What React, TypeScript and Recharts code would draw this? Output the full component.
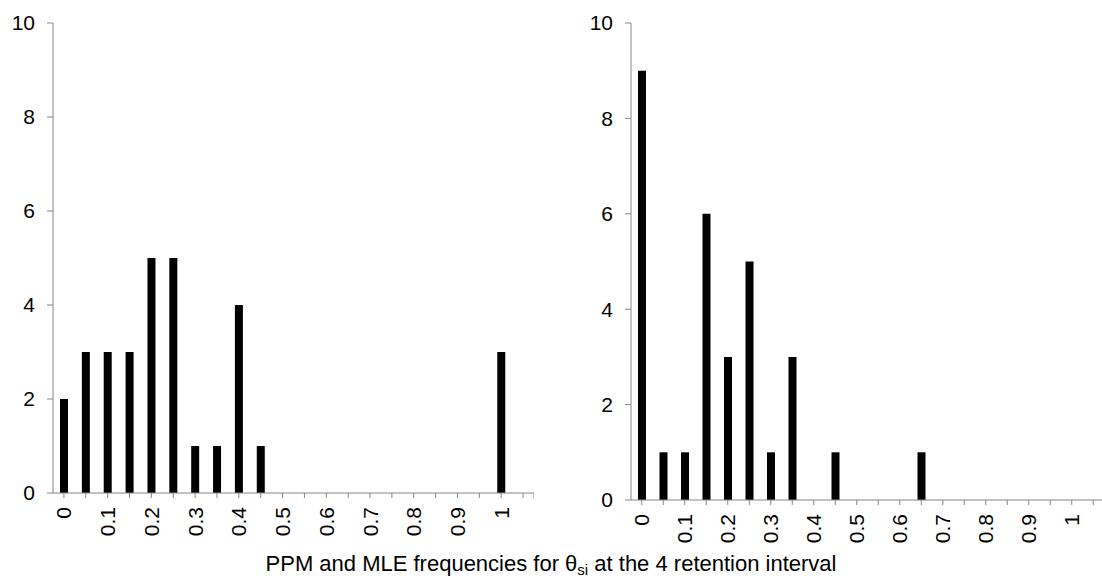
import { BarChart, Bar, XAxis, YAxis } from 'recharts'

// bin centres of the theta histogram (0 .. 1.05 in steps of 0.05)
const BINS = [
  0, 0.05, 0.1, 0.15, 0.2, 0.25, 0.3, 0.35, 0.4, 0.45, 0.5,
  0.55, 0.6, 0.65, 0.7, 0.75, 0.8, 0.85, 0.9, 0.95, 1, 1.05,
]

const PPM_COUNTS = [2, 3, 3, 3, 5, 5, 1, 1, 4, 1, 0, 0, 0, 0, 0, 0, 0, 0, 0, 0, 3, 0]
const MLE_COUNTS = [9, 1, 1, 6, 3, 5, 1, 3, 0, 1, 0, 0, 0, 1, 0, 0, 0, 0, 0, 0, 0, 0]

const X_LABELS: Record<string, string> = {
  '0': '0', '0.1': '0.1', '0.2': '0.2', '0.3': '0.3', '0.4': '0.4', '0.5': '0.5',
  '0.6': '0.6', '0.7': '0.7', '0.8': '0.8', '0.9': '0.9', '1': '1',
}
const Y_TICKS = [0, 2, 4, 6, 8, 10]
const X_DOMAIN: [number, number] = [-0.025, 1.075]
const X_TICKS = [...BINS, 1.075]

const AXIS_COLOR = '#868686'
const FONT = '"Liberation Sans", Arial, sans-serif'

const XTick = (props: any) => {
  const { x, y, payload } = props
  const label = X_LABELS[String(payload.value)]
  if (!label) return null
  return (
    <text
      x={x}
      y={y}
      dx={-7}
      dy="0.36em"
      transform={`rotate(-90, ${x}, ${y})`}
      textAnchor="end"
      fill="#000"
      fontSize={21}
      fontFamily={FONT}
    >
      {label}
    </text>
  )
}

type HistProps = { counts: number[]; width: number; height: number; bottom: number }

function Histogram({ counts, width, height, bottom }: HistProps) {
  const data = BINS.map((x, i) => ({ x, n: counts[i] }))
  return (
    <BarChart
      width={width}
      height={height}
      data={data}
      margin={{ top: 23, right: 0, left: 0, bottom }}
    >
      <XAxis
        dataKey="x"
        type="number"
        domain={X_DOMAIN}
        ticks={X_TICKS}
        allowDataOverflow
        interval={0}
        height={60}
        tickSize={5}
        stroke={AXIS_COLOR}
        tick={<XTick />}
      />
      <YAxis
        domain={[0, 10]}
        ticks={Y_TICKS}
        width={53}
        tickSize={6}
        tickMargin={12}
        stroke={AXIS_COLOR}
        tick={{ fill: '#000', fontSize: 21, fontFamily: FONT }}
      />
      <Bar dataKey="n" fill="#000" barSize={8} isAnimationActive={false} />
    </BarChart>
  )
}

export default function App() {
  return (
    <div
      style={{
        position: 'absolute',
        left: 0,
        top: 0,
        width: 1102,
        height: 587,
        overflow: 'hidden',
        background: '#fff',
      }}
    >
      <div style={{ position: 'absolute', left: 0, top: 0 }}>
        <Histogram counts={PPM_COUNTS} width={534} height={587} bottom={34} />
      </div>
      <div style={{ position: 'absolute', left: 578, top: 0 }}>
        <Histogram counts={MLE_COUNTS} width={526} height={587} bottom={27} />
      </div>
      <div
        style={{
          position: 'absolute',
          left: 0,
          width: 1102,
          top: 551,
          textAlign: 'center',
          fontFamily: FONT,
          fontSize: 22,
          color: '#000',
          whiteSpace: 'nowrap',
        }}
      >
        PPM and MLE frequencies for θ
        <sub style={{ fontSize: 15, verticalAlign: '-4px', lineHeight: 0 }}>si</sub> at the 4
        retention interval
      </div>
    </div>
  )
}
